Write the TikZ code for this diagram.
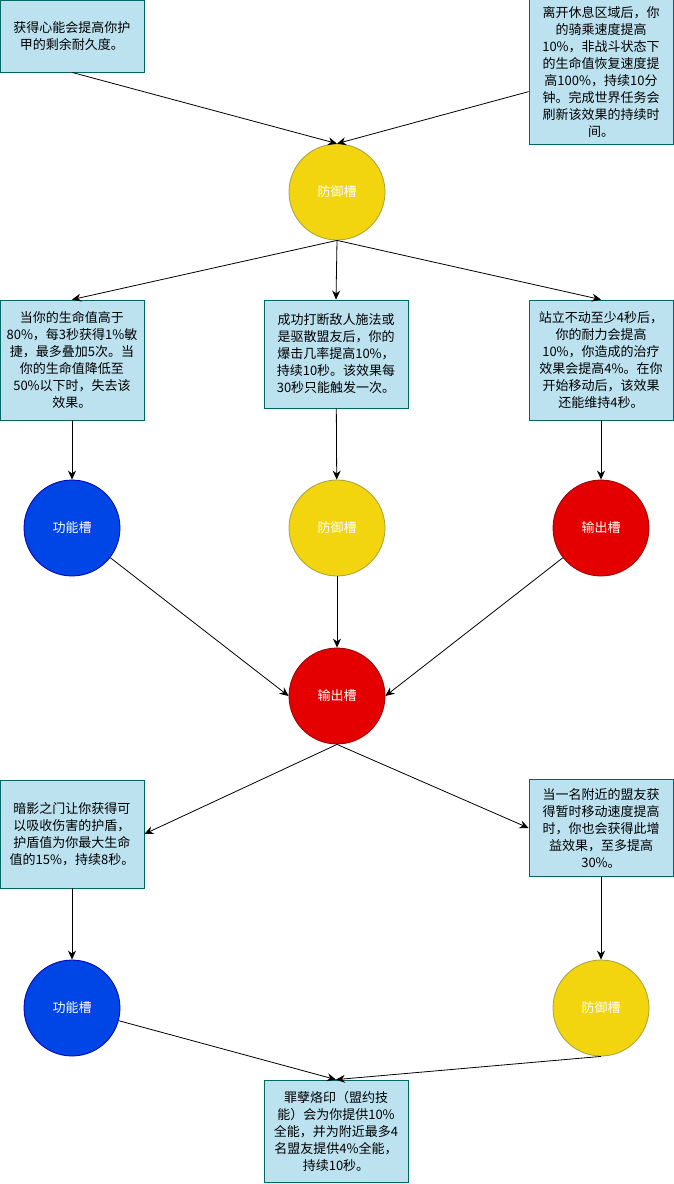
\documentclass[tikz,border=0pt]{standalone}
\usepackage{fontspec}
\setmainfont{Noto Sans CJK SC}
\newfontfamily\numfont{Liberation Serif}
\usetikzlibrary{arrows.meta}
\tikzset{
  textbox/.style={draw=teal!80!black, fill=cyan!20!white!90!teal, line width=0.8pt, minimum width=144pt, text width=134pt, align=center, inner sep=3pt, font=\fontsize{13}{17}\selectfont},
  slot/.style={circle, minimum size=96pt, line width=0.8pt, text=white, font=\fontsize{13}{15}\selectfont},
  defslot/.style={slot, fill=yellow!80!orange!95!black, draw=yellow!60!black},
  funslot/.style={slot, fill=blue!70!cyan!90!black, draw=blue!70!black},
  outslot/.style={slot, fill=red!90!black, draw=red!60!black},
  link/.style={-{Stealth[length=9pt,width=8pt]}, line width=0.8pt}
}
\begin{document}
\begin{tikzpicture}[x=1pt, y=-1pt]
  \useasboundingbox (0,0) rectangle (674,1184);

  \node[textbox, minimum height=72pt] (heart) at (72,36) {获得心能会提高你护\\甲的剩余耐久度。};
  \node[textbox, minimum height=145pt] (rest) at (601,72) {离开休息区域后，你\\的骑乘速度提高\\10\%，非战斗状态下\\的生命值恢复速度提\\高100\%，持续10分\\钟。完成世界任务会\\刷新该效果的持续时\\间。};
  \node[defslot] (def1) at (337,192) {防御槽};

  \node[textbox, minimum height=120pt] (agi) at (72,360) {当你的生命值高于\\80\%，每3秒获得1\%敏\\捷，最多叠加5次。当\\你的生命值降低至\\50\%以下时，失去该\\效果。};
  \node[textbox, minimum height=108pt] (crit) at (336,354) {成功打断敌人施法或\\是驱散盟友后，你的\\爆击几率提高10\%，\\持续10秒。该效果每\\30秒只能触发一次。};
  \node[textbox, minimum height=120pt] (stand) at (601,360) {站立不动至少4秒后，\\你的耐力会提高\\10\%，你造成的治疗\\效果会提高4\%。在你\\开始移动后，该效果\\还能维持4秒。};

  \node[funslot] (fun1) at (72,528) {功能槽};
  \node[defslot] (def2) at (337,528) {防御槽};
  \node[outslot] (out1) at (601,528) {输出槽};
  \node[outslot] (out2) at (337,696) {输出槽};

  \node[textbox, minimum height=108pt] (shade) at (72,834) {暗影之门让你获得可\\以吸收伤害的护盾，\\护盾值为你最大生命\\值的15\%，持续8秒。};
  \node[textbox, minimum height=97pt] (ally) at (601,828) {当一名附近的盟友获\\得暂时移动速度提高\\时，你也会获得此增\\益效果，至多提高\\30\%。};

  \node[funslot] (fun2) at (72,1008) {功能槽};
  \node[defslot] (def3) at (601,1008) {防御槽};
  \node[textbox, minimum height=102pt] (sin) at (336,1131) {罪孽烙印（盟约技\\能）会为你提供10\%\\全能，并为附近最多4\\名盟友提供4\%全能，\\持续10秒。};

  % top boxes to first slot
  \draw[link] (heart.south) -- (def1.north);
  \draw[link] (rest) -- (def1.north);
  % first slot to second row
  \draw[link] (def1.south) -- (agi.north);
  \draw[link] (def1.south) -- (crit.north);
  \draw[link] (def1.south) -- (stand.north);
  \draw[link] (agi) -- (fun1);
  \draw[link] (crit) -- (def2);
  \draw[link] (stand) -- (out1);
  % slots to output slot
  \draw[link] (fun1) -- (out2.west);
  \draw[link] (def2) -- (out2);
  \draw[link] (out1) -- (out2.east);
  % output slot to lower boxes
  \draw[link] (out2.south) -- (shade.east);
  \draw[link] (out2.south) -- (ally.west);
  \draw[link] (shade) -- (fun2);
  \draw[link] (ally) -- (def3);
  \draw[link] (fun2) -- (sin.north);
  \draw[link] (def3.south) -- (sin.north);
\end{tikzpicture}
\end{document}
